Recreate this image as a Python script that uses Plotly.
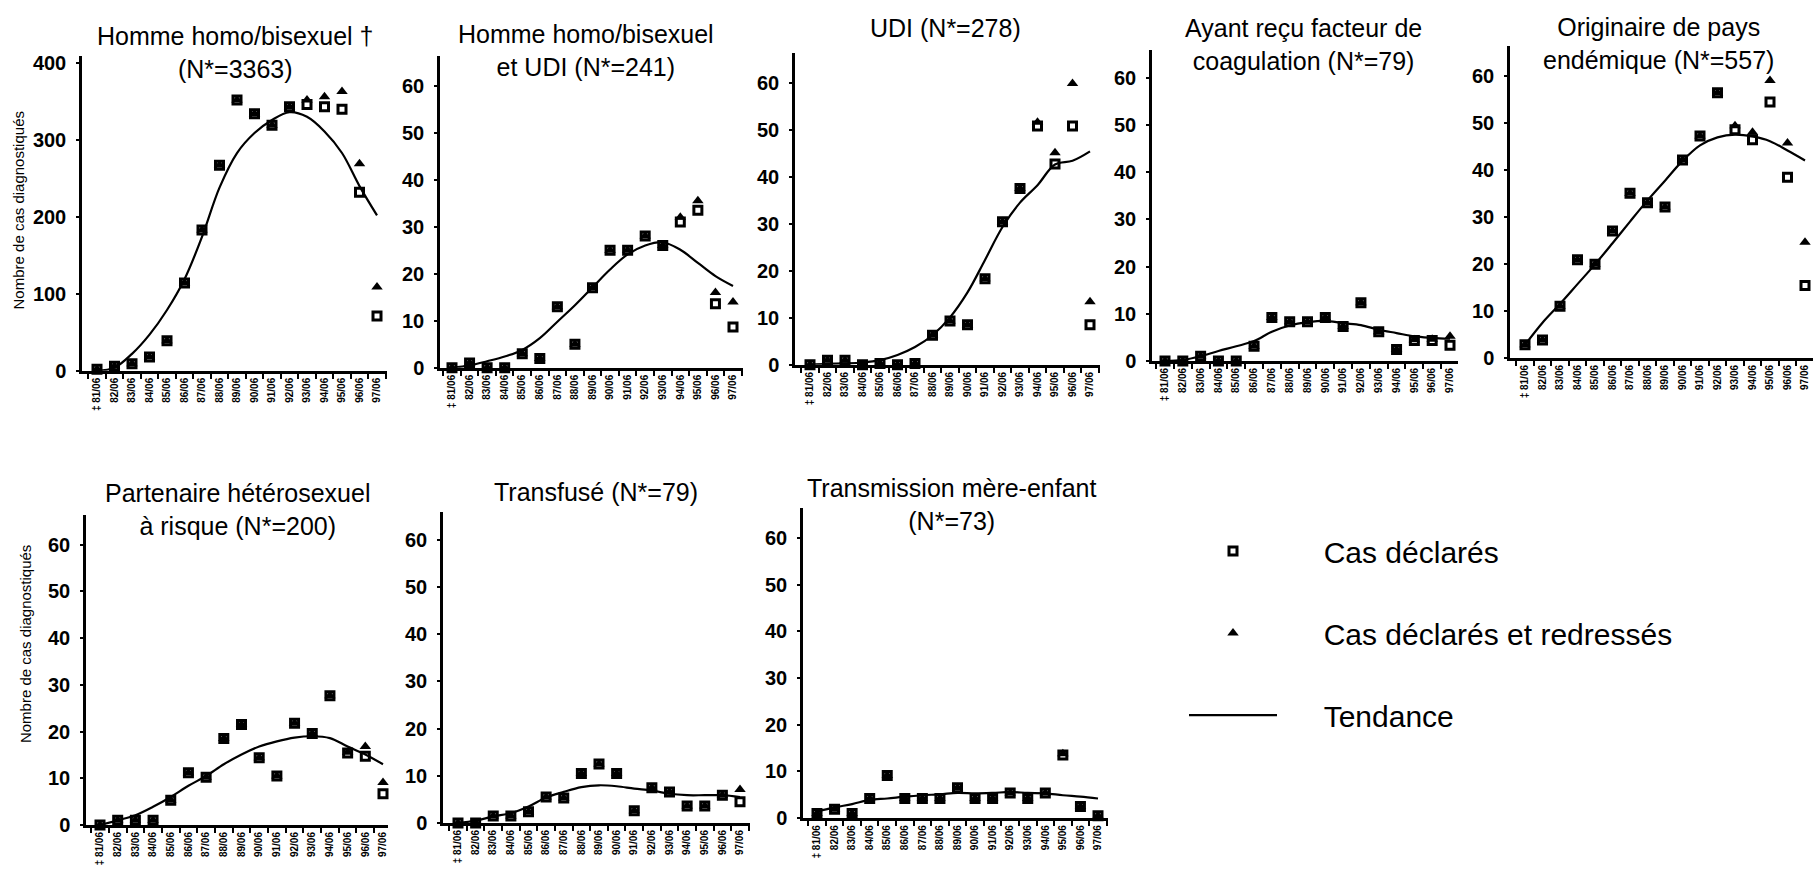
import plotly.graph_objects as go

W, H = 1816, 895

# ---------------- data ----------------
annees = ["‡ 81/06", "82/06", "83/06", "84/06", "85/06", "86/06", "87/06", "88/06", "89/06",
          "90/06", "91/06", "92/06", "93/06", "94/06", "95/06", "96/06", "97/06"]

homo_declares = [2, 6, 9, 18, 39, 114, 183, 267, 352, 334, 319, 343, 346, 343, 340, 232, 71]
homo_redresses = [2, 6, 9, 18, 39, 114, 183, 267, 352, 334, 319, 343, 352, 356, 363, 269, 109]
homo_tendance = [0, 4, 22, 47, 79, 119, 174, 238, 283, 309, 326, 336, 330, 311, 283, 240, 202]

homoudi_declares = [0, 1, 0, 0, 3, 2, 13, 5, 17, 25, 25, 28, 26, 31, 33.5, 13.6, 8.7]
homoudi_redresses = [0, 1, 0, 0, 3, 2, 13, 5, 17, 25, 25, 28, 26, 32, 35.5, 16, 14]
homoudi_tendance = [0, 0.5, 1.4, 2.4, 3.8, 6.3, 9.8, 13.3, 17.1, 20.9, 24.1, 26, 26.7, 25.1, 22.3, 19.5, 17.4]

udi_declares = [0, 1, 1, 0, 0.3, 0, 0.3, 6.3, 9.3, 8.5, 18.3, 30.4, 37.5, 50.8, 42.7, 50.8, 8.5]
udi_redresses = [0, 1, 1, 0, 0.3, 0, 0.3, 6.3, 9.3, 8.5, 18.3, 30.4, 37.5, 51.6, 45.1, 59.8, 13.4]
udi_tendance = [0, 0.2, 0.3, 0.5, 1, 2.1, 3.8, 6.3, 10.1, 15.4, 22.3, 29.3, 34.5, 38.2, 42.6, 43.4, 45.4]

coag_declares = [0, 0, 1, 0, 0, 3.1, 9.2, 8.3, 8.3, 9.2, 7.3, 12.3, 6.2, 2.4, 4.3, 4.3, 3.3]
coag_redresses = [0, 0, 1, 0, 0, 3.1, 9.2, 8.3, 8.3, 9.2, 7.3, 12.3, 6.2, 2.4, 4.5, 4.6, 5.2]
coag_tendance = [0, 0.2, 1, 2.1, 3.1, 4.2, 6.2, 7.5, 8.2, 8.5, 8, 7.6, 6.6, 5.9, 5.2, 4.9, 4.7]

endem_declares = [2.8, 3.8, 11, 20.9, 19.9, 27, 35, 33, 32.1, 42.1, 47.2, 56.4, 48.5, 46.4, 54.4, 38.4, 15.4]
endem_redresses = [2.8, 3.8, 11, 20.9, 19.9, 27, 35, 33, 32.1, 42.1, 47.2, 56.4, 49.4, 48, 59, 45.7, 24.6]
endem_tendance = [2.8, 7.5, 11.5, 15.7, 19.9, 24.4, 29, 33.5, 37.7, 41.9, 45.2, 46.9, 47.5, 47.1, 46.1, 44.1, 42]

hetero_declares = [0, 1, 1, 1, 5.3, 11.2, 10.2, 18.5, 21.5, 14.4, 10.5, 21.8, 19.6, 27.7, 15.4, 14.7, 6.7]
hetero_redresses = [0, 1, 1, 1, 5.3, 11.2, 10.2, 18.5, 21.5, 14.4, 10.5, 21.8, 19.6, 27.7, 15.6, 16.8, 9.1]
hetero_tendance = [0, 1, 2.1, 3.9, 6, 8.4, 10.5, 13, 15.1, 16.8, 17.9, 18.7, 19, 18.6, 16.8, 15.1, 13]

transf_declares = [0, 0, 1.5, 1.5, 2.4, 5.5, 5.3, 10.5, 12.5, 10.5, 2.6, 7.5, 6.6, 3.6, 3.6, 5.9, 4.5]
transf_redresses = [0, 0, 1.5, 1.5, 2.4, 5.5, 5.3, 10.5, 12.5, 10.5, 2.6, 7.5, 6.6, 3.6, 3.6, 5.9, 7.1]
transf_tendance = [0, 0.5, 1.4, 2.1, 3.5, 5.4, 6.6, 7.6, 8, 7.8, 7.3, 6.9, 6.2, 5.9, 5.9, 5.9, 5.5]

mere_declares = [1, 1.9, 1, 4.2, 9.1, 4.2, 4.2, 4.2, 6.5, 4.2, 4.2, 5.4, 4.2, 5.4, 13.5, 2.5, 0.5]
mere_redresses = [1, 1.9, 1, 4.2, 9.1, 4.2, 4.2, 4.2, 6.5, 4.2, 4.2, 5.4, 4.2, 5.4, 13.8, 2.5, 0.5]
mere_tendance = [1.4, 2.3, 3, 3.9, 4.2, 4.6, 4.9, 5.1, 5.4, 5.3, 5.4, 5.6, 5.4, 5.3, 4.9, 4.6, 4.2]

titres = [
    "Homme homo/bisexuel †<br>(N*=3363)",
    "Homme homo/bisexuel<br>et UDI (N*=241)",
    "UDI (N*=278)",
    "Ayant reçu facteur de<br>coagulation (N*=79)",
    "Originaire de pays<br>endémique (N*=557)",
    "Partenaire hétérosexuel<br>à risque (N*=200)",
    "Transfusé (N*=79)",
    "Transmission mère-enfant<br>(N*=73)",
]
series = [
    (homo_declares, homo_redresses, homo_tendance),
    (homoudi_declares, homoudi_redresses, homoudi_tendance),
    (udi_declares, udi_redresses, udi_tendance),
    (coag_declares, coag_redresses, coag_tendance),
    (endem_declares, endem_redresses, endem_tendance),
    (hetero_declares, hetero_redresses, hetero_tendance),
    (transf_declares, transf_redresses, transf_tendance),
    (mere_declares, mere_redresses, mere_tendance),
]
ytick_big = [0, 100, 200, 300, 400]
ytick_small = [0, 10, 20, 30, 40, 50, 60]
legend_names = ["Cas déclarés", "Cas déclarés et redressés", "Tendance"]
ytitre = "Nombre de cas diagnostiqués"

# ---------------- layout geometry (pixels) ----------------
# (axis left, axis right, first cat x, last cat x, y of zero, y of ref tick, ref value, axis top)
boxes = [
    (82, 387, 97, 377, 373, 60, 400, 53),
    (440, 743, 452, 733, 370, 83, 60, 53),
    (795, 1100, 810, 1090, 367, 80, 60, 50),
    (1152, 1458, 1165, 1450, 363, 75, 60, 47),
    (1510, 1813, 1525, 1805, 360, 73, 60, 43),
    (86, 388, 100, 383, 835, 550, 60, 520),
    (443, 750, 458, 740, 833, 545, 60, 517),
    (803, 1108, 817, 1098, 828, 543, 60, 513),
]
title_pos = [(235, 49), (586, 47), (945, 24), (1303, 41), (1658, 40),
             (238, 514), (596, 496), (952, 509)]
ytitle_pos = [(18, 210), (25, 651)]

FONT = "Liberation Sans, Arial, sans-serif"
PAD = "\u00a0" * 5


def px(x):
    return x / W


def py(y):
    return 1 - y / H


fig = go.Figure()
xi = list(range(len(annees)))
layout = {}
annotations = []

for i, ((decl, red, tend), box, titre) in enumerate(zip(series, boxes, titres)):
    n = i + 1
    sfx = "" if n == 1 else str(n)
    L, R, F, La, y0, yr, rv, top = box
    step = (La - F) / (len(annees) - 1)
    xr = [-(F - L) / step, (len(annees) - 1) + (R - La) / step]
    ppu = (y0 - yr) / rv
    yr_max = (y0 - top) / ppu
    first = (i == 0)

    fig.add_trace(go.Scatter(
        x=xi, y=tend, mode="lines", line=dict(color="black", width=2.2, shape="spline", smoothing=1),
        xaxis="x" + sfx, yaxis="y" + sfx, name=PAD + legend_names[2], legendgroup="g3", legendrank=3,
        showlegend=first, cliponaxis=False, hoverinfo="skip"))
    fig.add_trace(go.Scatter(
        x=xi, y=red, mode="markers",
        marker=dict(symbol="triangle-up", size=10, color="black"),
        xaxis="x" + sfx, yaxis="y" + sfx, name=PAD + legend_names[1], legendgroup="g2", legendrank=2,
        showlegend=first, cliponaxis=False))
    fig.add_trace(go.Scatter(
        x=xi, y=decl, mode="markers",
        marker=dict(symbol="square-open", size=8, color="black", line=dict(width=3, color="black")),
        xaxis="x" + sfx, yaxis="y" + sfx, name=PAD + legend_names[0], legendgroup="g1", legendrank=1,
        showlegend=first, cliponaxis=False))

    layout["xaxis" + sfx] = dict(
        domain=[px(L), px(R)], range=xr, anchor="y" + sfx,
        tickmode="array", tickvals=xi, ticktext=annees, tickangle=-90,
        tickfont=dict(family=FONT, size=10, color="black", weight="bold"),
        ticks="", showgrid=False, zeroline=False,
        showline=True, linecolor="black", linewidth=3,
        minor=dict(tickmode="array", tickvals=[k - 0.5 for k in range(len(annees) + 1)],
                   ticks="outside", ticklen=5, tickwidth=1.5, tickcolor="black", showgrid=False),
    )
    layout["yaxis" + sfx] = dict(
        domain=[py(y0), py(top)], range=[0, yr_max], anchor="x" + sfx,
        tickmode="array", tickvals=ytick_big if first else ytick_small,
        tickfont=dict(family=FONT, size=20, color="black", weight="bold"),
        ticks="outside", ticklen=3, tickwidth=1.5, tickcolor="black",
        ticklabelstandoff=6,
        showgrid=False, zeroline=False,
        showline=True, linecolor="black", linewidth=2.5,
    )
    tx, ty = title_pos[i]
    annotations.append(dict(
        text=titre, x=px(tx), y=py(ty), xref="paper", yref="paper",
        xanchor="center", yanchor="middle", showarrow=False,
        font=dict(family=FONT, size=25, color="black")))

for (ax, ay) in ytitle_pos:
    annotations.append(dict(
        text=ytitre, x=px(ax), y=py(ay), xref="paper", yref="paper",
        xanchor="center", yanchor="middle", showarrow=False, textangle=-90,
        font=dict(family=FONT, size=15, color="black")))

fig.update_layout(
    width=W, height=H,
    margin=dict(l=0, r=0, t=0, b=0),
    paper_bgcolor="white", plot_bgcolor="white",
    showlegend=True,
    legend=dict(
        x=px(1184), y=py(530), xanchor="left", yanchor="top",
        font=dict(family=FONT, size=30, color="black"),
        itemwidth=88, tracegroupgap=40, traceorder="grouped",
        bgcolor="rgba(0,0,0,0)", borderwidth=0,
    ),
    annotations=annotations,
    **layout,
)

fig.write_html("out.html",
               config={"displayModeBar": False},
               post_script="document.body.style.margin='0px';document.body.style.overflow='hidden';")
